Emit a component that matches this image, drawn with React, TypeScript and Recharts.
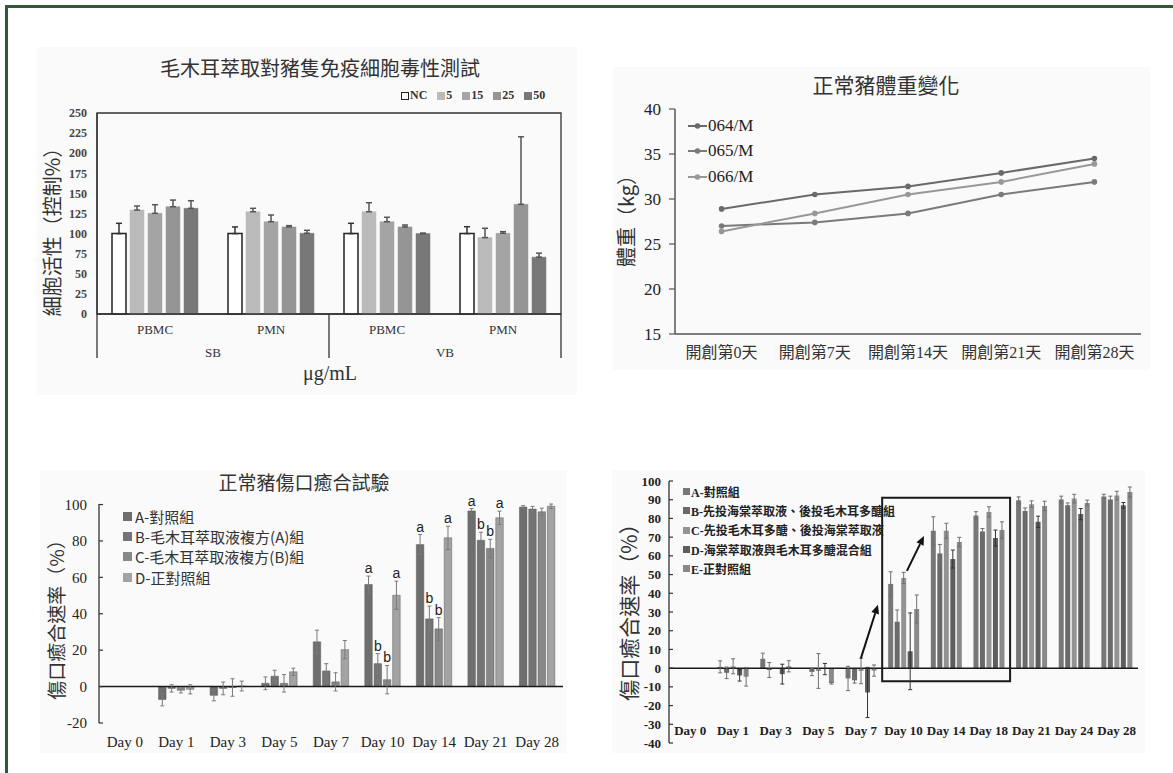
import React from 'react';
import {
  BarChart,
  Bar,
  LineChart,
  Line,
  XAxis,
  YAxis,
  ErrorBar,
  ReferenceLine,
  ReferenceArea,
  Legend,
  LabelList,
} from 'recharts';

const SERIF = '"Liberation Serif", "Times New Roman", "Noto Sans CJK TC", serif';
const CJK = '"Noto Sans CJK TC", "Liberation Serif", sans-serif';
const SANS = '"Liberation Sans", Arial, sans-serif';

// ---------- 毛木耳萃取對豬隻免疫細胞毒性測試 ----------
const cellTypes = ['PBMC', 'PMN', 'PBMC', 'PMN'];
const bloodGroups = ['SB', 'SB', 'VB', 'VB'];
const doseLabels = ['NC', '5', '15', '25', '50'];
const doseColors = ['#ffffff', '#bababa', '#a4a4a4', '#959595', '#787878'];
const viabilityNC = [100, 100, 100, 100];
const viability5 = [129.3, 127.2, 127.2, 95];
const viability15 = [125.2, 114.8, 114.8, 100.4];
const viability25 = [133.4, 108.3, 108.3, 136.4];
const viability50 = [131.4, 100.4, 100, 70.7];
const errNC = [12.8, 8.3, 12.8, 8.6];
const err5 = [5, 4.2, 11.2, 11.6];
const err15 = [10.7, 8.3, 5.5, 2];
const err25 = [8.3, 1.6, 2.4, 84];
const err50 = [9.5, 3.7, 0.6, 5];
const viabilityTicks = [0, 25, 50, 75, 100, 125, 150, 175, 200, 225, 250];

const viabilitySeries = [viabilityNC, viability5, viability15, viability25, viability50];
const viabilityErrs = [errNC, err5, err15, err25, err50];
const cellData = cellTypes.map((c, i) => {
  const row: any = { key: `${bloodGroups[i]}-${c}-${i}`, cell: c, group: bloodGroups[i] };
  doseLabels.forEach((d, k) => {
    row[`d${k}`] = viabilitySeries[k][i];
    row[`e${k}`] = [0, viabilityErrs[k][i]];
  });
  return row;
});

// ---------- 正常豬體重變化 ----------
const weighDays = ['開創第0天', '開創第7天', '開創第14天', '開創第21天', '開創第28天'];
const pigIds = ['064/M', '065/M', '066/M'];
const pigColors = ['#6a6a6a', '#7a7a7a', '#989898'];
const weight064 = [28.9, 30.5, 31.4, 32.9, 34.5];
const weight065 = [27.0, 27.4, 28.4, 30.5, 31.9];
const weight066 = [26.4, 28.4, 30.5, 31.9, 33.9];
const weightTicks = [15, 20, 25, 30, 35, 40];
const weightData = weighDays.map((d, i) => ({
  day: d,
  p0: weight064[i],
  p1: weight065[i],
  p2: weight066[i],
}));

// ---------- 正常豬傷口癒合試驗 ----------
const healDays = ['Day 0', 'Day 1', 'Day 3', 'Day 5', 'Day 7', 'Day 10', 'Day 14', 'Day 21', 'Day 28'];
const healGroups = ['A-對照組', 'B-毛木耳萃取液複方(A)組', 'C-毛木耳萃取液複方(B)組', 'D-正對照組'];
const healColors = ['#6e6e6e', '#747474', '#888888', '#a3a3a3'];
const healA = [null, -7.1, -4.8, 1.8, 24.6, 56.1, 78, 96.5, 98.6];
const healB = [null, -1, -1, 5.7, 8.6, 12.6, 37.2, 80.4, 97.5];
const healC = [null, -2, -0.5, 1.8, 2.6, 3.8, 31.7, 75.9, 96];
const healD = [null, -1.5, 0.3, 8.1, 20.3, 50.2, 81.7, 92.7, 99.1];
const healErrA = [null, 3.5, 3, 3.5, 6.4, 4.6, 5.5, 1.3, 0.8];
const healErrB = [null, 2, 3.5, 3.3, 4, 5.5, 7, 4.4, 1.5];
const healErrC = [null, 1.5, 4.8, 4.8, 5, 7.8, 6.2, 5, 2];
const healErrD = [null, 2.5, 2.7, 2, 5, 7.7, 6.4, 3.7, 1.2];
const sigA = ['', '', '', '', '', 'a', 'a', 'a', ''];
const sigB = ['', '', '', '', '', 'b', 'b', 'b', ''];
const sigC = ['', '', '', '', '', 'b', 'b', 'b', ''];
const sigD = ['', '', '', '', '', 'a', 'a', 'a', ''];
const healTicks = [-20, 0, 20, 40, 60, 80, 100];
const healSeries = [healA, healB, healC, healD];
const healErrs = [healErrA, healErrB, healErrC, healErrD];
const healSig = [sigA, sigB, sigC, sigD];
const healData = healDays.map((d, i) => {
  const row: any = { day: d };
  healSeries.forEach((s, k) => {
    row[`v${k}`] = s[i];
    row[`e${k}`] = healErrs[k][i];
    row[`s${k}`] = healSig[k][i];
  });
  return row;
});

// ---------- 海棠萃取液與毛木耳多醣傷口癒合 ----------
const mixDays = ['Day 0', 'Day 1', 'Day 3', 'Day 5', 'Day 7', 'Day 10', 'Day 14', 'Day 18', 'Day 21', 'Day 24', 'Day 28'];
const mixGroups = [
  'A-對照組',
  'B-先投海棠萃取液、後投毛木耳多醣組',
  'C-先投毛木耳多醣、後投海棠萃取液',
  'D-海棠萃取液與毛木耳多醣混合組',
  'E-正對照組',
];
const mixColors = ['#777777', '#6a6a6a', '#939393', '#5e5e5e', '#898989'];
const mixA = [null, 0.7, 5, 0, -5.5, 45, 73.4, 81.6, 89.7, 90.1, 91.7];
const mixB = [null, -2.5, -1, -2, -6.5, 24.8, 61.3, 73, 84, 87, 90.1];
const mixC = [null, 1, 0, -1.5, -1.5, 48.2, 73.4, 83.5, 87.6, 90.6, 92.2];
const mixD = [null, -3.9, -3.2, -0.5, -13, 9, 58.3, 69.5, 78.2, 82.3, 87];
const mixE = [null, -4.6, 1, -8, -1.3, 31.6, 67.4, 73.8, 86.7, 88.3, 94.1];
const mixErrA = [null, 3.2, 3, 4.5, 6.5, 6.5, 7.5, 2, 1.8, 1.8, 1.2];
const mixErrB = [null, 3.1, 4, 2, 1.5, 6.3, 4.8, 1.6, 1.6, 1.3, 1.8];
const mixErrC = [null, 4, 4.8, 9.3, 6.8, 3, 4, 2.7, 1.8, 2.3, 2.3];
const mixErrD = [null, 3, 5.3, 3, 13.4, 20.5, 4.8, 4.3, 3, 3, 1.5];
const mixErrE = [null, 5, 3, 0.5, 3, 7.5, 2.5, 4.4, 2.5, 1.5, 2.7];
const mixTicks = [-40, -30, -20, -10, 0, 10, 20, 30, 40, 50, 60, 70, 80, 90, 100];
const mixSeries = [mixA, mixB, mixC, mixD, mixE];
const mixErrs = [mixErrA, mixErrB, mixErrC, mixErrD, mixErrE];
const mixData = mixDays.map((d, i) => {
  const row: any = { day: d, pos: i + 0.5 };
  mixSeries.forEach((s, k) => {
    row[`v${k}`] = s[i];
    row[`e${k}`] = mixErrs[k][i];
  });
  return row;
});
// framed period Day 10 ~ Day 18
const boxFrom = 'Day 10';
const boxTo = 'Day 18';
const boxLow = -7;
const boxHigh = 91;
// arrows, x in band units (0 = left edge of Day 0, 11 = right edge of Day 28)
const arrowStarts = [
  { x: 4.5, y: 5.2 },
  { x: 5.58, y: 52 },
];
const arrowEnds = [
  { x: 4.9, y: 33.9 },
  { x: 5.98, y: 70.6 },
];

// ---------- helpers ----------
const P1_PLOT_W = 540 - 60 - 16;
const P1_BAND = P1_PLOT_W / cellTypes.length;

const CellTick = (props: any) => {
  const { x, y, index } = props;
  const row = cellData[index];
  const half = P1_BAND / 2;
  return (
    <g>
      <text x={x} y={y + 20} textAnchor="middle" fontFamily={SERIF} fontSize={13} fill="#333">
        {row.cell}
      </text>
      {index % 2 === 0 && (
        <>
          <line x1={x - half} x2={x - half} y1={y} y2={y + 44} stroke="#333" strokeWidth={1.3} />
          <text x={x + half} y={y + 43} textAnchor="middle" fontFamily={SERIF} fontSize={13} fill="#333">
            {row.group}
          </text>
        </>
      )}
      {index === cellData.length - 1 && (
        <line x1={x + half} x2={x + half} y1={y} y2={y + 44} stroke="#333" strokeWidth={1.3} />
      )}
    </g>
  );
};

const makeInsideTick = (margin: number, fontSize: number, bold: boolean) => (props: any) => {
  const { x, y, payload } = props;
  return (
    <g>
      <line x1={x + margin} x2={x + margin + 4} y1={y} y2={y} stroke="#333" strokeWidth={1.2} />
      <text
        x={x}
        y={y}
        dy="0.35em"
        textAnchor="end"
        fontFamily={SERIF}
        fontSize={fontSize}
        fontWeight={bold ? 700 : 400}
        fill="#222"
      >
        {payload.value}
      </text>
    </g>
  );
};

const MixDayTick = (props: any) => {
  const { x, y, payload } = props;
  return (
    <text x={x} y={y - 8} textAnchor="middle" fontFamily={SERIF} fontSize={13} fontWeight={700} fill="#222">
      {payload.value}
    </text>
  );
};

// letter above the error bar of one bar; the label value is the whole row
const makeSigLabel = (k: number) => (props: any) => {
  const vb = props.viewBox || props;
  const { x, y, width, height } = vb;
  const row = props.value;
  if (!row || typeof row !== 'object') return null;
  const letter = row[`s${k}`];
  const value = row[`v${k}`];
  if (!letter || !value) return null;
  const perUnit = Math.abs(height) / Math.abs(value);
  const top = y - (row[`e${k}`] || 0) * perUnit;
  return (
    <text x={x + width / 2} y={top - 3} textAnchor="middle" fontFamily={SANS} fontSize={14} fill="#222">
      {letter}
    </text>
  );
};

const ArrowShape = (props: any) => {
  const { x1, y1, x2, y2 } = props;
  const dx = x2 - x1;
  const dy = y2 - y1;
  const len = Math.sqrt(dx * dx + dy * dy) || 1;
  const ux = dx / len;
  const uy = dy / len;
  const head = 9;
  const hw = 4;
  const bx = x2 - ux * head;
  const by = y2 - uy * head;
  const pts = `${x2},${y2} ${bx - uy * hw},${by + ux * hw} ${bx + uy * hw},${by - ux * hw}`;
  return (
    <g>
      <line x1={x1} y1={y1} x2={bx} y2={by} stroke="#111" strokeWidth={2} />
      <polygon points={pts} fill="#111" />
    </g>
  );
};

const Title = ({ cx, cy, size, children }: any) => (
  <div
    style={{
      position: 'absolute',
      left: cx - 300,
      top: cy - size * 0.7,
      width: 600,
      lineHeight: `${size * 1.4}px`,
      textAlign: 'center',
      fontFamily: CJK,
      fontSize: size,
      color: '#333',
      whiteSpace: 'nowrap',
    }}
  >
    {children}
  </div>
);

const VTitle = ({ cx, cy, size, children }: any) => (
  <div
    style={{
      position: 'absolute',
      left: cx,
      top: cy,
      transform: 'translate(-50%, -50%) rotate(-90deg)',
      fontFamily: CJK,
      fontSize: size,
      lineHeight: 1,
      color: '#333',
      whiteSpace: 'nowrap',
    }}
  >
    {children}
  </div>
);

const legendNoOffset = { layout: 'vertical' as const, align: 'center' as const, verticalAlign: 'middle' as const };

export default function App() {
  return (
    <div
      style={{
        position: 'fixed',
        left: 0,
        top: 0,
        width: 1173,
        height: 773,
        background: '#ffffff',
        overflow: 'hidden',
      }}
    >
      <div
        style={{
          position: 'absolute',
          left: 5,
          top: 5,
          width: 1300,
          height: 900,
          borderLeft: '3px solid #2e5b34',
          borderTop: '3px solid #2e5b34',
        }}
      />

      {/* 細胞毒性 */}
      <div style={{ position: 'absolute', left: 37, top: 47, width: 540, height: 348, background: '#fafafa' }}>
        <BarChart
          width={540}
          height={348}
          data={cellData}
          margin={{ top: 66, right: 16, bottom: 0, left: 0 }}
          barSize={14}
          barGap={4}
        >
          <XAxis
            dataKey="key"
            height={81}
            tickSize={0}
            tickMargin={0}
            interval={0}
            axisLine={{ stroke: '#333', strokeWidth: 1.3 }}
            tick={(p: any) => <CellTick {...p} />}
          />
          <YAxis
            width={60}
            domain={[0, 250]}
            ticks={viabilityTicks}
            interval={0}
            tickSize={0}
            tickMargin={10}
            axisLine={{ stroke: '#333', strokeWidth: 1.3 }}
            tick={{ fontFamily: SERIF, fontSize: 12, fontWeight: 700, fill: '#444' }}
          />
          <ReferenceArea y1={0} y2={250} fill="none" stroke="#333" strokeWidth={1.3} ifOverflow="visible" />
          {doseLabels.map((d, k) => (
            <Bar
              key={d}
              dataKey={`d${k}`}
              name={d}
              fill={doseColors[k]}
              stroke={k === 0 ? '#222' : doseColors[k]}
              strokeWidth={k === 0 ? 1.5 : 0.5}
              isAnimationActive={false}
            >
              <ErrorBar dataKey={`e${k}`} width={3} stroke={k === 0 ? '#333' : '#555'} strokeWidth={1.5} />
            </Bar>
          ))}
          <Legend
            {...legendNoOffset}
            wrapperStyle={{ left: 364, top: 41 }}
            content={() => (
              <div style={{ display: 'flex', alignItems: 'center', fontFamily: SERIF, fontSize: 12, fontWeight: 700, color: '#333' }}>
                {doseLabels.map((d, k) => (
                  <span key={d} style={{ display: 'flex', alignItems: 'center', marginRight: 10 }}>
                    <span
                      style={{
                        display: 'inline-block',
                        width: 8,
                        height: 8,
                        background: doseColors[k],
                        border: k === 0 ? '1px solid #222' : 'none',
                        boxSizing: 'border-box',
                        marginRight: 1,
                      }}
                    />
                    {d}
                  </span>
                ))}
              </div>
            )}
          />
        </BarChart>
      </div>
      <Title cx={320} cy={68} size={20}>毛木耳萃取對豬隻免疫細胞毒性測試</Title>
      <VTitle cx={52} cy={227} size={20}>細胞活性（控制%）</VTitle>
      <div
        style={{
          position: 'absolute',
          left: 230,
          width: 200,
          top: 360,
          textAlign: 'center',
          fontFamily: SERIF,
          fontSize: 20,
          lineHeight: '26px',
          color: '#333',
        }}
      >
        μg/mL
      </div>

      {/* 體重變化 */}
      <div style={{ position: 'absolute', left: 613, top: 67, width: 537, height: 303, background: '#fafafa' }}>
        <LineChart width={537} height={303} data={weightData} margin={{ top: 42, right: 9, bottom: 0, left: 0 }}>
          <XAxis
            dataKey="day"
            scale="band"
            height={36}
            tickSize={0}
            tickMargin={13}
            interval={0}
            axisLine={{ stroke: '#555', strokeWidth: 1.5 }}
            tick={{ fontFamily: SERIF, fontSize: 16, fill: '#333' }}
          />
          <YAxis
            width={62}
            domain={[15, 40]}
            ticks={weightTicks}
            interval={0}
            tickSize={6}
            tickMargin={8}
            axisLine={{ stroke: '#555', strokeWidth: 1.5 }}
            tickLine={{ stroke: '#555', strokeWidth: 1.2 }}
            tick={{ fontFamily: SERIF, fontSize: 17, fill: '#222' }}
          />
          {pigIds.map((id, k) => (
            <Line
              key={id}
              dataKey={`p${k}`}
              name={id}
              stroke={pigColors[k]}
              strokeWidth={2}
              dot={{ r: 2.8, fill: pigColors[k], stroke: pigColors[k], strokeWidth: 0 }}
              isAnimationActive={false}
            />
          ))}
          <Legend
            {...legendNoOffset}
            wrapperStyle={{ left: 75, top: 46 }}
            content={() => (
              <div style={{ fontFamily: SERIF, fontSize: 17, color: '#222' }}>
                {pigIds.map((id, k) => (
                  <div key={id} style={{ display: 'flex', alignItems: 'center', height: 25.5 }}>
                    <svg width={19} height={8} style={{ marginRight: 1 }}>
                      <line x1={0} x2={19} y1={4} y2={4} stroke={pigColors[k]} strokeWidth={2} />
                      <circle cx={9.5} cy={4} r={2.8} fill={pigColors[k]} />
                    </svg>
                    {id}
                  </div>
                ))}
              </div>
            )}
          />
        </LineChart>
      </div>
      <Title cx={886} cy={85} size={21}>正常豬體重變化</Title>
      <VTitle cx={626} cy={216} size={20}>體重（kg）</VTitle>

      {/* 傷口癒合試驗 */}
      <div style={{ position: 'absolute', left: 40, top: 470, width: 527, height: 283, background: '#fafafa' }}>
        <BarChart
          width={527}
          height={283}
          data={healData}
          margin={{ top: 34, right: 4, bottom: 0, left: 0 }}
          barSize={7.5}
          barGap={1.8}
        >
          <XAxis
            dataKey="day"
            height={30}
            tickSize={0}
            tickMargin={13}
            interval={0}
            axisLine={false}
            tick={{ fontFamily: SERIF, fontSize: 15, fill: '#222' }}
          />
          <YAxis
            width={59}
            domain={[-20, 100]}
            ticks={healTicks}
            interval={0}
            tickSize={0}
            tickMargin={12}
            axisLine={{ stroke: '#333', strokeWidth: 1.3 }}
            tick={makeInsideTick(12, 15, false)}
          />
          <ReferenceLine y={0} stroke="#1a1a1a" strokeWidth={1.5} />
          {healGroups.map((g, k) => (
            <Bar
              key={g}
              dataKey={`v${k}`}
              name={g}
              fill={healColors[k]}
              stroke="#5a5a5a"
              strokeWidth={0.5}
              isAnimationActive={false}
            >
              <ErrorBar dataKey={`e${k}`} width={2} stroke="#7a7a7a" strokeWidth={1} />
              <LabelList dataKey={(row: any) => row} content={makeSigLabel(k)} />
            </Bar>
          ))}
          <Legend
            {...legendNoOffset}
            wrapperStyle={{ left: 83, top: 36 }}
            content={() => (
              <div style={{ fontFamily: CJK, fontSize: 15, color: '#333' }}>
                {healGroups.map((g, k) => (
                  <div key={g} style={{ display: 'flex', alignItems: 'center', height: 20.4, whiteSpace: 'nowrap' }}>
                    <span style={{ display: 'inline-block', width: 9, height: 9, background: healColors[k], marginRight: 3 }} />
                    {g}
                  </div>
                ))}
              </div>
            )}
          />
        </BarChart>
      </div>
      <Title cx={304} cy={482} size={19}>正常豬傷口癒合試驗</Title>
      <VTitle cx={55} cy={615} size={19}>傷口癒合速率（%）</VTitle>

      {/* 傷口癒合速率 (五組) */}
      <div style={{ position: 'absolute', left: 612, top: 470, width: 533, height: 283, background: '#fafafa' }}>
        <BarChart
          width={533}
          height={283}
          data={mixData}
          margin={{ top: 11, right: 7, bottom: 0, left: 0 }}
          barSize={5}
          barGap={1.5}
        >
          <XAxis
            dataKey="day"
            height={10}
            tickSize={0}
            tickMargin={0}
            interval={0}
            axisLine={false}
            tick={(p: any) => <MixDayTick {...p} />}
          />
          <XAxis
            xAxisId="n"
            dataKey="pos"
            type="number"
            domain={[0, mixDays.length]}
            allowDataOverflow
            hide
          />
          <YAxis
            width={57}
            domain={[-40, 100]}
            ticks={mixTicks}
            interval={0}
            tickSize={0}
            tickMargin={8}
            axisLine={{ stroke: '#333', strokeWidth: 1.3 }}
            tick={makeInsideTick(8, 13, true)}
          />
          <ReferenceLine y={0} stroke="#1a1a1a" strokeWidth={1.5} />
          {mixGroups.map((g, k) => (
            <Bar key={g} dataKey={`v${k}`} name={g} fill={mixColors[k]} isAnimationActive={false}>
              <ErrorBar dataKey={`e${k}`} width={2} stroke={k === 3 ? '#333' : '#707070'} strokeWidth={1} />
            </Bar>
          ))}
          <ReferenceArea
            x1={boxFrom}
            x2={boxTo}
            y1={boxLow}
            y2={boxHigh}
            fill="none"
            stroke="#1a1a1a"
            strokeWidth={2}
            ifOverflow="visible"
          />
          {arrowStarts.map((s, i) => (
            <ReferenceLine
              key={i}
              xAxisId="n"
              segment={[s, arrowEnds[i]]}
              ifOverflow="visible"
              shape={(p: any) => <ArrowShape {...p} />}
            />
          ))}
          <Legend
            {...legendNoOffset}
            wrapperStyle={{ left: 71, top: 12 }}
            content={() => (
              <div style={{ fontFamily: SERIF, fontSize: 12, fontWeight: 700, color: '#222' }}>
                {mixGroups.map((g, k) => (
                  <div key={g} style={{ display: 'flex', alignItems: 'center', height: 19.3, whiteSpace: 'nowrap' }}>
                    <span style={{ display: 'inline-block', width: 7, height: 7, background: mixColors[k], marginRight: 1 }} />
                    {g}
                  </div>
                ))}
              </div>
            )}
          />
        </BarChart>
      </div>
      <VTitle cx={628} cy={607} size={21}>傷口癒合速率（%）</VTitle>
    </div>
  );
}
